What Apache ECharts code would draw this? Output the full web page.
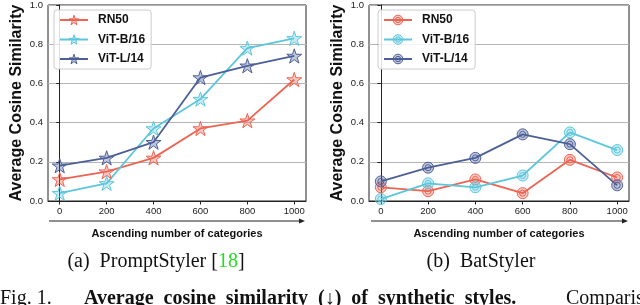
<!DOCTYPE html>
<html><head><meta charset="utf-8">
<script src="https://cdn.jsdelivr.net/npm/echarts@6/dist/echarts.min.js"></script>
<style>html,body{margin:0;padding:0;background:#fff}#c{width:640px;height:305px}</style>
</head><body><div id="c"></div>
<script>
const categories = [0, 200, 400, 600, 800, 1000];
const tickLabels = [0, 200, 400, 600, 800, 1000];
const seriesNames = ['RN50', 'ViT-B/16', 'ViT-L/14'];
// (a) PromptStyler
const psRN50 = [0.11, 0.15, 0.22, 0.37, 0.41, 0.62];
const psViTB16 = [0.04, 0.09, 0.37, 0.52, 0.78, 0.83];
const psViTL14 = [0.18, 0.22, 0.30, 0.63, 0.69, 0.74];
// (b) BatStyler
const bsRN50 = [0.07, 0.05, 0.11, 0.04, 0.21, 0.12];
const bsViTB16 = [0.01, 0.09, 0.07, 0.13, 0.35, 0.26];
const bsViTL14 = [0.10, 0.17, 0.22, 0.34, 0.29, 0.08];

const colors = ['#EE6352', '#5CC6DD', '#4C5F97'];
const fills = ['rgba(238,99,82,0.35)', 'rgba(92,198,221,0.35)', 'rgba(76,95,151,0.35)'];
const STAR = 'path://M0,-10 L2.245,-3.09 L9.511,-3.09 L3.633,1.18 L5.878,8.09 L0,3.82 L-5.878,8.09 L-3.633,1.18 L-9.511,-3.09 L-2.245,-3.09 Z';
const RING = 'path://M0,-10 A10,10 0 1,1 0,10 A10,10 0 1,1 0,-10 Z M0,-5.5 A5.5,5.5 0 1,1 0,5.5 A5.5,5.5 0 1,1 0,-5.5 Z';
const SANS = 'Liberation Sans';
const SERIF = 'Liberation Serif';
const SUFFIX = ' (b)';

function pairs(vals){ return categories.map((x,i)=>[x, vals[i]]); }

function mkSeries(name, vals, idx, axis, symbol, size){
  return {
    type:'line', name:name, xAxisIndex:axis, yAxisIndex:axis,
    data:pairs(vals), symbol:symbol, symbolSize:size, symbolKeepAspect:true,
    lineStyle:{color:colors[idx], width:1.8},
    itemStyle:{color:fills[idx], borderColor:colors[idx], borderWidth:1},
    emphasis:{disabled:true}, z:3
  };
}

function xAxisCfg(gi){
  return {
    type:'value', gridIndex:gi, min:-50, max:1050,
    axisLine:{show:true, lineStyle:{color:'#222', width:1}},
    axisTick:{show:true, inside:false, length:3.5, customValues:tickLabels, lineStyle:{color:'#222'}},
    axisLabel:{show:true, customValues:tickLabels, margin:5, fontSize:9.5, fontFamily:SANS, color:'#222', formatter:v=>String(v)},
    splitLine:{show:false},
    name:'Ascending number of categories', nameLocation:'middle', nameGap:27,
    nameTextStyle:{fontFamily:SANS, fontWeight:'bold', fontSize:11, color:'#111'}
  };
}
function yAxisCfg(gi){
  return {
    type:'value', gridIndex:gi, min:0, max:1, interval:0.2,
    axisLine:{show:true, lineStyle:{color:'#222', width:1}},
    axisTick:{show:true, length:3.5, lineStyle:{color:'#222'}},
    axisLabel:{margin:5, fontSize:9.5, fontFamily:SANS, color:'#222', formatter:v=>v.toFixed(1)},
    splitLine:{show:true, lineStyle:{color:'#b5b5b5', width:1}},
    name:'Average Cosine Similarity', nameLocation:'middle', nameGap:23, nameRotate:90,
    nameTextStyle:{fontFamily:SANS, fontWeight:'bold', fontSize:16, color:'#111'}
  };
}
function legendCfg(left, names, fmt, symbol){
  return {
    left:left, top:10, orient:'vertical',
    data:names.map((n,i)=>({name:n, icon:symbol, itemStyle:{color:fills[i], borderColor:colors[i], borderWidth:1}})),
    backgroundColor:'rgba(255,255,255,0.85)', borderColor:'#cccccc', borderWidth:1, borderRadius:3,
    padding:[4,6,4,5], itemGap:7.5, itemWidth:28, itemHeight:12,
    textStyle:{fontFamily:SANS, fontWeight:'bold', fontSize:12, color:'#111', padding:[0,0,0,5]},
    formatter:fmt, selectedMode:false, z:10
  };
}

const arrowLine = (x1,x2,y)=>[
  {type:'line', shape:{x1:x1, y1:y, x2:x2-4, y2:y}, style:{stroke:'#222', lineWidth:1}},
  {type:'polygon', shape:{points:[[x2,y],[x2-6,y-2.5],[x2-6,y+2.5]]}, style:{fill:'#222'}}
];

const option = {
  animation:false,
  grid:[
    {left:48, top:5, width:258, height:196, show:true, borderColor:'#222', borderWidth:1, backgroundColor:'transparent'},
    {left:369, top:5, width:260, height:196, show:true, borderColor:'#222', borderWidth:1, backgroundColor:'transparent'}
  ],
  xAxis:[xAxisCfg(0), xAxisCfg(1)],
  yAxis:[yAxisCfg(0), yAxisCfg(1)],
  legend:[
    legendCfg(54, seriesNames, n=>n),
    legendCfg(378, seriesNames.map(n=>n+SUFFIX), n=>n.replace(SUFFIX,''))
  ],
  series:[
    mkSeries(seriesNames[0], psRN50, 0, 0, STAR, 15),
    mkSeries(seriesNames[1], psViTB16, 1, 0, STAR, 15),
    mkSeries(seriesNames[2], psViTL14, 2, 0, STAR, 15),
    mkSeries(seriesNames[0]+SUFFIX, bsRN50, 0, 1, RING, 11),
    mkSeries(seriesNames[1]+SUFFIX, bsViTB16, 1, 1, RING, 11),
    mkSeries(seriesNames[2]+SUFFIX, bsViTL14, 2, 1, RING, 11)
  ],
  graphic:[
    ...arrowLine(49, 305, 221),
    ...arrowLine(371, 628, 221),
    {type:'text', x:156, y:262, style:{
      text:'(a)  PromptStyler [{g|18}]', align:'center', verticalAlign:'middle',
      font:'20px "Liberation Serif"', fill:'#111',
      rich:{g:{fill:'#22dd22', fontSize:20, fontFamily:SERIF}}}},
    {type:'text', x:481, y:262, style:{
      text:'(b)  BatStyler', align:'center', verticalAlign:'middle',
      font:'20px "Liberation Serif"', fill:'#111'}},
    {type:'text', x:0, y:289, style:{text:'Fig. 1.', font:'20px "Liberation Serif"', fill:'#111', verticalAlign:'top'}},
    {type:'text', x:84, y:289, style:{text:'Average  cosine  similarity  (\u2193)  of  synthetic  styles.', font:'bold 20px "Liberation Serif"', fill:'#111', verticalAlign:'top'}},
    {type:'text', x:566, y:289, style:{text:'Comparison of', font:'20px "Liberation Serif"', fill:'#111', verticalAlign:'top'}}
  ]
};
const chart = echarts.init(document.getElementById('c'), null, {renderer:'canvas'});
chart.setOption(option);
</script></body></html>
